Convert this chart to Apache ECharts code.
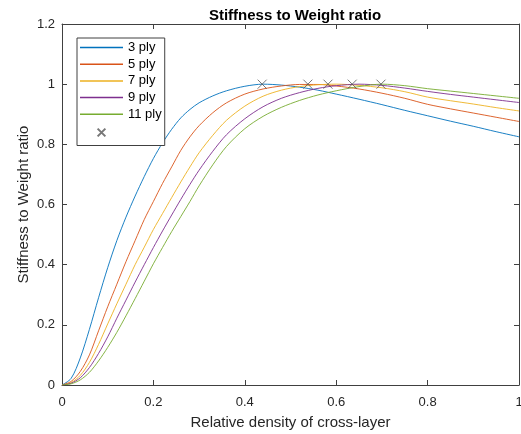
<!DOCTYPE html>
<html>
<head>
<meta charset="utf-8">
<script src="https://cdn.jsdelivr.net/npm/echarts@6/dist/echarts.min.js"></script>
<style>
  html, body { margin: 0; padding: 0; background: #fff; }
  #chart { width: 521px; height: 434px; }
</style>
</head>
<body>
<div id="chart"></div>
<script>
  // relative density of cross-layer (x)
  var density = [0, 0.02, 0.04, 0.06, 0.08, 0.10, 0.12, 0.14, 0.16, 0.18,
    0.20, 0.22, 0.24, 0.26, 0.28, 0.30, 0.33, 0.36, 0.40, 0.44,
    0.48, 0.52, 0.56, 0.60, 0.65, 0.70, 0.75, 0.80, 0.85, 0.90,
    0.95, 1.00]

  var ply3 = [0, 0.022, 0.09, 0.185, 0.29, 0.39, 0.48, 0.558, 0.628, 0.693,
    0.753, 0.805, 0.85, 0.888, 0.916, 0.938, 0.961, 0.978, 0.993, 1.0,
    0.997, 0.99, 0.98, 0.967, 0.95, 0.932, 0.913, 0.895, 0.877, 0.86,
    0.842, 0.825]

  var ply5 = [0, 0.012, 0.045, 0.10, 0.18, 0.26, 0.335, 0.41, 0.48, 0.55,
    0.61, 0.67, 0.725, 0.78, 0.825, 0.862, 0.905, 0.938, 0.967, 0.984,
    0.994, 0.999, 0.999, 0.994, 0.984, 0.97, 0.953, 0.933, 0.918, 0.904,
    0.89, 0.876]

  var ply7 = [0, 0.008, 0.032, 0.075, 0.135, 0.203, 0.27, 0.335, 0.40, 0.458,
    0.517, 0.57, 0.623, 0.675, 0.725, 0.772, 0.83, 0.88, 0.927, 0.96,
    0.98, 0.992, 0.998, 1.0, 0.996, 0.988, 0.975, 0.957, 0.945, 0.934,
    0.922, 0.911]

  var ply9 = [0, 0.006, 0.024, 0.058, 0.105, 0.16, 0.222, 0.282, 0.342, 0.40,
    0.457, 0.512, 0.565, 0.617, 0.667, 0.714, 0.777, 0.832, 0.885, 0.925,
    0.953, 0.972, 0.986, 0.995, 1.0, 0.996, 0.987, 0.976, 0.966, 0.957,
    0.948, 0.939]

  var ply11 = [0, 0.004, 0.017, 0.042, 0.08, 0.125, 0.175, 0.23, 0.287, 0.345,
    0.403, 0.457, 0.51, 0.56, 0.61, 0.662, 0.732, 0.793, 0.852, 0.893,
    0.923, 0.946, 0.964, 0.978, 0.992, 1.0, 0.995, 0.985, 0.977, 0.969,
    0.961, 0.953]

  // maxima marked with x
  var peakX = [0.438, 0.538, 0.582, 0.635, 0.698]
  var peakY = [1, 1, 1, 1, 1]

  var plyNames = ['3 ply', '5 ply', '7 ply', '9 ply', '11 ply']
  var plyColors = ['#0072BD', '#D95319', '#EDB120', '#7E2F8E', '#77AC30']
  var plyData = [ply3, ply5, ply7, ply9, ply11]

  function pairs(xs, ys) {
    return xs.map(function (x, i) { return [x, ys[i]] })
  }

  var font = 'Liberation Sans, Arial, Helvetica, sans-serif'
  var axisColor = '#404040'
  var crossPath = 'path://M0,0 L10,10 M10,0 L0,10'
  // same cross, padded so it comes out smaller in the legend
  var crossLegend = 'path://M-4,-4 M0,0 L10,10 M10,0 L0,10 M14,14'
  var lineLegend = 'path://M0,0 L43,0 L43,1.5 L0,1.5 Z'

  var series = plyData.map(function (d, i) {
    return {
      name: plyNames[i],
      type: 'line',
      smooth: 0.3,
      symbol: 'none',
      lineStyle: { color: plyColors[i], width: 0.9 },
      itemStyle: { color: plyColors[i] },
      data: pairs(density, d)
    }
  })
  series.push({
    name: ' ',
    type: 'scatter',
    symbol: crossPath,
    symbolSize: 9,
    itemStyle: { color: 'rgba(0,0,0,0)', borderColor: '#555', borderWidth: 1 },
    data: pairs(peakX, peakY),
    z: 5
  })

  var legendData = plyNames.map(function (n, i) {
    return { name: n, icon: lineLegend, itemStyle: { color: plyColors[i], borderWidth: 0 } }
  })
  legendData.push({ name: ' ', icon: crossLegend })

  function tick() {
    return { show: true, inside: true, length: 5, lineStyle: { color: axisColor } }
  }
  function line() {
    return { show: true, onZero: false, lineStyle: { color: axisColor } }
  }

  var chart = echarts.init(document.getElementById('chart'))
  chart.setOption({
    backgroundColor: '#fff',
    animation: false,
    title: {
      text: 'Stiffness to Weight ratio',
      left: 290,
      textAlign: 'center',
      top: 3,
      textStyle: { fontFamily: font, fontSize: 15, fontWeight: 'bold', color: '#000' }
    },
    legend: {
      orient: 'vertical',
      left: 77,
      top: 38,
      padding: [3, 3, 5, 3],
      itemWidth: 43,
      itemHeight: 14,
      itemGap: 3.7,
      borderColor: axisColor,
      borderWidth: 1,
      borderRadius: 0,
      backgroundColor: '#fff',
      data: legendData,
      textStyle: { fontFamily: font, fontSize: 13, color: '#000' }
    },
    grid: { left: 62, right: 2, top: 24, bottom: 49, containLabel: false, outerBoundsMode: 'none' },
    xAxis: [{
      type: 'value',
      min: 0,
      max: 1,
      interval: 0.2,
      name: 'Relative density of cross-layer',
      nameLocation: 'middle',
      nameGap: 30,
      nameMoveOverlap: false,
      nameTextStyle: { fontFamily: font, fontSize: 15, color: '#262626' },
      axisLine: line(),
      axisTick: tick(),
      axisLabel: { fontFamily: font, fontSize: 13, color: '#262626', margin: 11 },
      splitLine: { show: false }
    }, {
      type: 'value',
      position: 'top',
      min: 0,
      max: 1,
      interval: 0.2,
      axisLine: line(),
      axisTick: tick(),
      axisLabel: { show: false },
      splitLine: { show: false }
    }],
    yAxis: [{
      type: 'value',
      min: 0,
      max: 1.2,
      interval: 0.2,
      name: 'Stiffness to Weight ratio',
      nameLocation: 'middle',
      nameGap: 31,
      nameMoveOverlap: false,
      nameTextStyle: { fontFamily: font, fontSize: 15, color: '#262626' },
      axisLine: line(),
      axisTick: tick(),
      axisLabel: { fontFamily: font, fontSize: 13, color: '#262626', margin: 7 },
      splitLine: { show: false }
    }, {
      type: 'value',
      position: 'right',
      min: 0,
      max: 1.2,
      interval: 0.2,
      axisLine: line(),
      axisTick: tick(),
      axisLabel: { show: false },
      splitLine: { show: false }
    }],
    series: series
  })
</script>
</body>
</html>
